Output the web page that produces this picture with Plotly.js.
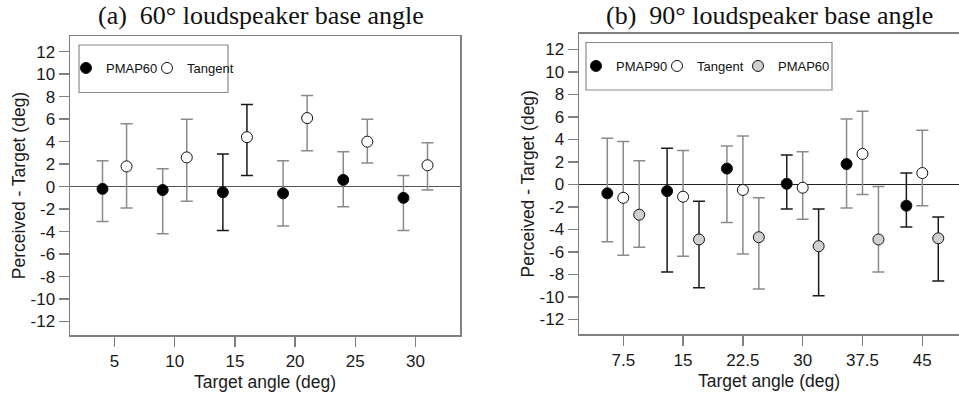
<!DOCTYPE html>
<html><head><meta charset="utf-8">
<script src="https://cdn.plot.ly/plotly-3.0.1.min.js"></script>
<style>html,body{margin:0;padding:0;background:#fff}#c{width:959px;height:396px}</style>
</head><body><div id="c"></div>
<script>
// ---- Panel (a): 60° base angle ----
const aPmapX = [4, 9, 14, 19, 24, 29];
const aPmapY = [-0.2, -0.3, -0.5, -0.6, 0.6, -1.0];
const aPmapHi = [2.3, 1.6, 2.9, 2.3, 3.1, 1.0];
const aPmapLo = [-3.1, -4.2, -3.9, -3.5, -1.8, -3.9];
const aTanX = [6, 11, 16, 21, 26, 31];
const aTanY = [1.8, 2.6, 4.4, 6.1, 4.0, 1.9];
const aTanHi = [5.6, 6.0, 7.3, 8.1, 6.0, 3.9];
const aTanLo = [-1.9, -1.3, 1.0, 3.2, 2.1, -0.3];
// ---- Panel (b): 90° base angle ----
const bP90X = [5.5, 13, 20.5, 28, 35.5, 43];
const bP90Y = [-0.8, -0.6, 1.4, 0.05, 1.8, -1.9];
const bP90Hi = [4.1, 3.2, 3.4, 2.6, 5.8, 1.0];
const bP90Lo = [-5.1, -7.8, -3.4, -2.2, -2.1, -3.8];
const bTanX = [7.5, 15, 22.5, 30, 37.5, 45];
const bTanY = [-1.2, -1.1, -0.5, -0.3, 2.7, 1.0];
const bTanHi = [3.8, 3.0, 4.3, 2.9, 6.5, 4.8];
const bTanLo = [-6.3, -6.4, -6.2, -3.1, -0.9, -1.9];
const bP60X = [9.5, 17, 24.5, 32, 39.5, 47];
const bP60Y = [-2.7, -4.9, -4.7, -5.5, -4.9, -4.8];
const bP60Hi = [2.1, -1.5, -1.2, -2.2, -0.2, -2.9];
const bP60Lo = [-5.6, -9.2, -9.3, -9.9, -7.8, -8.6];
// tick labels
const aTickVals = [5, 10, 15, 20, 25, 30];
const aTickText = ['5', '10', '15', '20', '25', '30'];
const bTickVals = [7.5, 15, 22.5, 30, 37.5, 45];
const bTickText = ['7.5', '15', '22.5', '30', '37.5', '45'];
const yTickVals = [-12, -10, -8, -6, -4, -2, 0, 2, 4, 6, 8, 10, 12];
const yTickText = ['-12', '-10', '-8', '-6', '-4', '-2', '0', '2', '4', '6', '8', '10', '12'];

// style: which error bars are drawn dark (1) or grey (0)
const aPmapErrDark = [0, 0, 1, 0, 0, 0];
const aTanErrDark  = [0, 0, 1, 0, 0, 0];
const bP90ErrDark  = [0, 1, 0, 1, 0, 1];
const bTanErrDark  = [0, 0, 0, 0, 0, 0];
const bP60ErrDark  = [0, 1, 0, 1, 0, 1];

const GREY = '#8a8a8a', DARK = '#1a1a1a';
const traces = [];
function errTraces(xs, ys, hi, lo, dark, xa, ya) {
  [0, 1].forEach(d => {
    const idx = xs.map((_, i) => i).filter(i => dark[i] === d);
    if (!idx.length) return;
    traces.push({
      type: 'scatter', mode: 'markers', xaxis: xa, yaxis: ya, showlegend: false, hoverinfo: 'skip',
      x: idx.map(i => xs[i]), y: idx.map(i => ys[i]),
      marker: {size: 1, opacity: 0},
      error_y: {type: 'data', symmetric: false,
        array: idx.map(i => hi[i] - ys[i]), arrayminus: idx.map(i => ys[i] - lo[i]),
        color: d ? DARK : GREY, thickness: 1.5, width: 6}
    });
  });
}
function markTrace(name, xs, ys, fill, xa, ya, leg) {
  traces.push({
    type: 'scatter', mode: 'markers', name: name, xaxis: xa, yaxis: ya, legend: leg,
    x: xs, y: ys,
    marker: {size: 11, color: fill, line: {color: '#111', width: 1}}
  });
}
function spacer(xa, ya, leg) {
  // empty legend entry so the last real entry's text is not clipped
  traces.push({type: 'scatter', mode: 'markers', name: ' ', xaxis: xa, yaxis: ya, legend: leg,
    x: [null], y: [null], hoverinfo: 'skip',
    marker: {size: 1, color: 'rgba(0,0,0,0)', line: {width: 0}}});
}
errTraces(aPmapX, aPmapY, aPmapHi, aPmapLo, aPmapErrDark, 'x', 'y');
errTraces(aTanX, aTanY, aTanHi, aTanLo, aTanErrDark, 'x', 'y');
errTraces(bP90X, bP90Y, bP90Hi, bP90Lo, bP90ErrDark, 'x2', 'y2');
errTraces(bTanX, bTanY, bTanHi, bTanLo, bTanErrDark, 'x2', 'y2');
errTraces(bP60X, bP60Y, bP60Hi, bP60Lo, bP60ErrDark, 'x2', 'y2');
markTrace('PMAP60', aPmapX, aPmapY, '#000', 'x', 'y', 'legend');
markTrace('Tangent', aTanX, aTanY, '#fff', 'x', 'y', 'legend');
spacer('x', 'y', 'legend');
markTrace('PMAP90', bP90X, bP90Y, '#000', 'x2', 'y2', 'legend2');
markTrace('Tangent', bTanX, bTanY, '#fff', 'x2', 'y2', 'legend2');
markTrace('PMAP60', bP60X, bP60Y, '#d0d0d0', 'x2', 'y2', 'legend2');
spacer('x2', 'y2', 'legend2');

const W = 959, H = 396;
const tickFont = {family: 'Liberation Sans, Arial, sans-serif', size: 17, color: '#1a1a1a'};
const titleFont = {family: 'Liberation Sans, Arial, sans-serif', size: 17.5, color: '#1a1a1a'};
function xax(dom, range, tv, tt, mirror) {
  return {domain: dom, range: range, tickvals: tv, ticktext: tt, ticks: 'outside', ticklen: 10,
    tickwidth: 1.5, tickcolor: '#808080', showline: true, linecolor: '#808080', linewidth: 1.5,
    mirror: mirror, showgrid: false, zeroline: false, tickfont: tickFont,
    title: {text: 'Target angle (deg)', font: titleFont, standoff: 6}, automargin: false, fixedrange: true};
}
function yax(dom, range, anchor, mirror, zc) {
  return {domain: dom, range: range, anchor: anchor, tickvals: yTickVals, ticktext: yTickText,
    ticks: 'outside', ticklen: 10,
    tickwidth: 1.5, tickcolor: '#808080', showline: true, linecolor: '#808080', linewidth: 1.5,
    mirror: mirror, showgrid: false, zeroline: true, zerolinecolor: zc, zerolinewidth: 1.3,
    tickfont: tickFont, title: {text: 'Perceived - Target (deg)', font: titleFont, standoff: 0},
    automargin: false, fixedrange: true};
}
const legFont = {family: 'Liberation Sans, Arial, sans-serif', size: 13, color: '#111'};
const layout = {
  width: W, height: H, margin: {l: 0, r: 0, t: 0, b: 0}, paper_bgcolor: '#fff', plot_bgcolor: '#fff',
  showlegend: true,
  xaxis: xax([70 / W, 460 / W], [1.3, 33.7], aTickVals, aTickText, true),
  yaxis: yax([1 - 335 / H, 1 - 36 / H], [-13.2, 13.4], 'x', true, '#555'),
  xaxis2: Object.assign(xax([579 / W, 1], [1.95, 49.6], bTickVals, bTickText, true), {anchor: 'y2'}),
  yaxis2: yax([1 - 334 / H, 1 - 33.5 / H], [-13.3, 13.4], 'x2', false, '#222'),
  legend: {orientation: 'h', x: 66 / W, y: 1 - 53 / H, xanchor: 'left', yanchor: 'top',
    bgcolor: 'rgba(0,0,0,0)', borderwidth: 0, itemwidth: 30, entrywidth: 36, font: legFont},
  legend2: {orientation: 'h', x: 576 / W, y: 1 - 51 / H, xanchor: 'left', yanchor: 'top',
    bgcolor: 'rgba(0,0,0,0)', borderwidth: 0, itemwidth: 30, entrywidth: 36, font: legFont},
  shapes: [
    {type: 'rect', xref: 'paper', yref: 'paper', x0: 79 / W, x1: 228 / W, y0: 1 - 92.5 / H, y1: 1 - 45 / H,
     line: {color: '#8a8a8a', width: 1.2}},
    {type: 'rect', xref: 'paper', yref: 'paper', x0: 586 / W, x1: 832 / W, y0: 1 - 90 / H, y1: 1 - 42.5 / H,
     line: {color: '#8a8a8a', width: 1.2}}
  ],
  annotations: [
    {text: '(a)  60° loudspeaker base angle', xref: 'paper', yref: 'paper', x: 261 / W, y: 1 + 0.5 / H,
     xanchor: 'center', yanchor: 'top', showarrow: false,
     font: {family: 'Liberation Serif, Times New Roman, serif', size: 26, color: '#111'}},
    {text: '(b)  90° loudspeaker base angle', xref: 'paper', yref: 'paper', x: 769 / W, y: 1 + 0.5 / H,
     xanchor: 'center', yanchor: 'top', showarrow: false,
     font: {family: 'Liberation Serif, Times New Roman, serif', size: 26, color: '#111'}}
  ]
};
Plotly.newPlot('c', traces, layout, {displayModeBar: false, staticPlot: true});
</script></body></html>
